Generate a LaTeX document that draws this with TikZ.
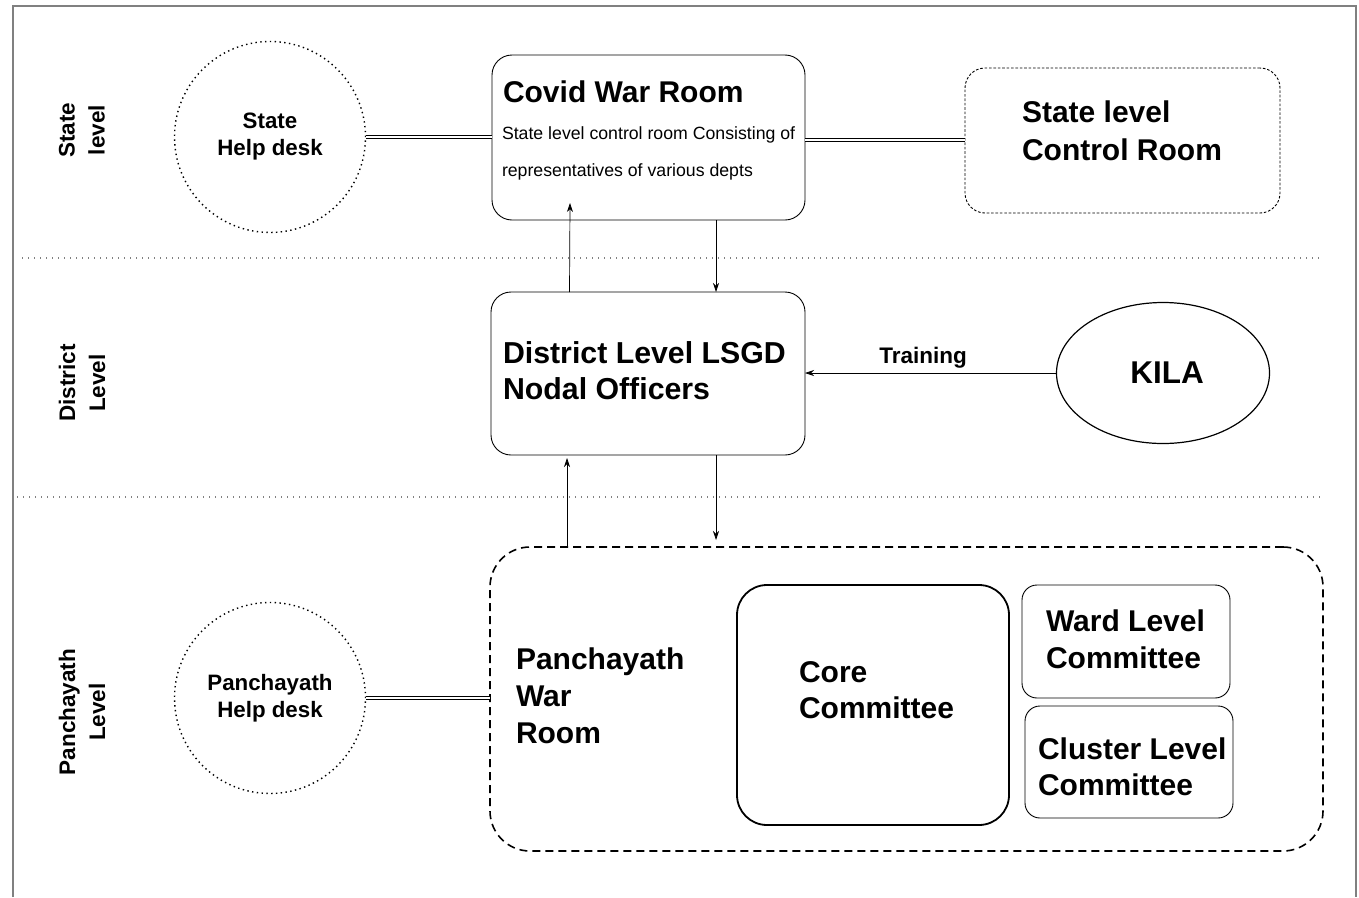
\documentclass[tikz,border=0pt]{standalone}
\usepackage{fontspec}
\setmainfont{Liberation Sans}
\usetikzlibrary{arrows.meta,shapes.geometric,calc}
\begin{document}
\begin{tikzpicture}[x=1pt,y=-1pt,
  every node/.style={inner sep=0pt,outer sep=0pt},
  rbox/.style={draw,rounded corners=20pt,line width=0.9pt},
  dotcircle/.style={draw,circle,line width=1.4pt,dash pattern=on 1.4pt off 3.4pt,minimum size=191pt,align=center,
    font=\bfseries\fontsize{22.3}{27}\selectfont},
  bigtxt/.style={anchor=west,align=left,font=\bfseries\fontsize{30}{37}\selectfont},
  lvl/.style={rotate=90,align=center,font=\bfseries\fontsize{22.5}{30}\selectfont},
  sep/.style={gray,line width=1.4pt,dash pattern=on 1.4pt off 4.6pt},
  dbl/.style={double,double distance=2.4pt,line width=0.7pt},
  arr/.style={-{Stealth[length=9pt,width=6pt]},line width=0.7pt}]
\useasboundingbox (0,0) rectangle (1359,897);
% frame
\draw[gray,line width=1.6pt] (13,897) -- (13,6) -- (1356,6) -- (1356,897);
% level separators
\draw[sep] (22,258) -- (1320,258);
\draw[sep] (17,497) -- (1320,497);
% level labels
\node[lvl] (lstate) at (82,130) {State\\level};
\node[lvl] (ldist) at (82,383) {District\\Level};
\node[lvl] (lpanch) at (82,712) {Panchayath\\Level};
% state level
\node[dotcircle] (shd) at (270,137) {State\\Help desk};
\node[rbox,minimum width=313pt,minimum height=165pt] (covid) at (648.5,137.5) {};
\node[anchor=west,font=\bfseries\fontsize{30}{37}\selectfont] (covidt) at (503,92) {Covid War Room};
\node[anchor=west,align=left,font=\fontsize{17.7}{37}\selectfont] (covids) at (502,153.5) {State level control room Consisting of\\representatives of various depts};
\node[draw,rounded corners=20pt,line width=0.9pt,dash pattern=on 2.6pt off 1.8pt,
  minimum width=315pt,minimum height=145pt] (slcr) at (1122.5,140.5) {};
\node[bigtxt,font=\bfseries\fontsize{30}{38}\selectfont] (slcrt) at (1022,131) {State level\\Control Room};
\draw[dbl] (shd.east) -- (covid.west |- shd.east);
\draw[dbl] (covid.east |- 0,140) -- (slcr.west |- 0,140);
% district level
\node[rbox,minimum width=314pt,minimum height=163pt] (dist) at (648,373.5) {};
\node[bigtxt,font=\bfseries\fontsize{30.3}{36}\selectfont] (distt) at (503,371) {District Level LSGD\\Nodal Officers};
\node[draw,ellipse,line width=1.2pt,minimum width=213pt,minimum height=141pt] (kila) at (1163,373) {};
\node[font=\bfseries\fontsize{31.5}{34}\selectfont] (kilat) at (1167,373) {KILA};
\draw[arr] (kila.west) -- (dist.east |- kila.west)
  node[pos=0.53,above=5pt,font=\bfseries\fontsize{22.5}{24}\selectfont] (train) {Training};
\draw[arr] ([xshift=-78.5pt]dist.north) -- ([shift={(-78.5pt,17pt)}]covid.south);
\draw[arr] ([xshift=67.5pt]covid.south) -- ([xshift=68pt]dist.north);
% panchayath level
\node[draw,rounded corners=40pt,line width=1.6pt,dash pattern=on 8pt off 5pt,
  minimum width=833pt,minimum height=304pt] (pwr) at (906.5,699) {};
\draw[arr] ([xshift=-339.5pt]pwr.north) -- ([shift={(-81pt,-3pt)}]dist.south);
\draw[arr] ([xshift=68pt]dist.south) -- ([shift={(-190.5pt,7pt)}]pwr.north);
\node[bigtxt] (pwrt) at (516,696) {Panchayath\\War\\Room};
\node[dotcircle] (phd) at (270,698) {Panchayath\\Help desk};
\draw[dbl] (phd.east) -- (pwr.west |- phd.east);
\node[draw,rounded corners=30pt,line width=1.8pt,minimum width=272pt,minimum height=240pt] (core) at (873,705) {};
\node[bigtxt,font=\bfseries\fontsize{30}{36}\selectfont] (coret) at (799,690) {Core\\Committee};
\node[draw,rounded corners=15pt,line width=0.9pt,minimum width=208pt,minimum height=113pt] (ward) at (1126,641.5) {};
\node[bigtxt,font=\bfseries\fontsize{30}{37}\selectfont] (wardt) at (1046,639.5) {Ward Level\\Committee};
\node[draw,rounded corners=15pt,line width=0.9pt,minimum width=208pt,minimum height=112pt] (clus) at (1129,762) {};
\node[bigtxt,font=\bfseries\fontsize{30}{36}\selectfont] (clust) at (1038,767) {Cluster Level\\Committee};
\end{tikzpicture}
\end{document}
